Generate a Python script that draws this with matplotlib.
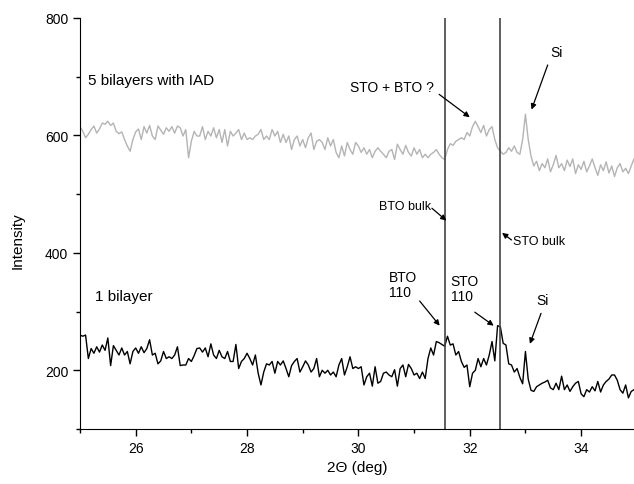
import numpy as np
import matplotlib
matplotlib.use("Agg")
import matplotlib.pyplot as plt
from matplotlib.ticker import MultipleLocator

plt.rcParams['font.family'] = ['Liberation Sans', 'DejaVu Sans']

# 2-theta grid: 25.00 .. 34.95 deg, 0.05 deg step
theta_start = 25.0
theta_step = 0.05

# 1 bilayer (black)
one_bilayer = [
    260, 258, 260, 220, 237, 229, 240, 231, 243, 234, 255, 208, 242, 234, 226, 238, 226, 232, 211, 232,
    238, 229, 240, 230, 237, 252, 226, 229, 211, 216, 232, 220, 223, 220, 226, 240, 208, 209, 209, 220,
    215, 225, 237, 238, 231, 238, 223, 245, 226, 220, 234, 223, 220, 232, 215, 215, 244, 203, 215, 220,
    229, 220, 209, 226, 195, 175, 197, 211, 209, 215, 195, 215, 209, 216, 203, 189, 208, 215, 220, 197,
    206, 216, 209, 197, 203, 220, 189, 200, 195, 200, 192, 197, 189, 209, 220, 192, 206, 223, 203, 206,
    203,
    206, 175, 189, 195, 173, 206, 178, 181, 195, 197, 192, 189, 201, 173, 203, 209, 189, 210, 203, 192,
    195, 186, 197, 186, 220, 238, 226, 249, 247, 244, 241, 258, 243, 245, 226, 232, 215, 205, 209, 172,
    195, 200, 220, 206, 220, 209, 226, 249, 216, 276, 274, 246, 243, 211, 209, 197, 203, 188, 177, 232,
    185, 166, 164, 172, 175, 178, 180, 183, 170, 167, 178, 167, 190, 167, 175, 164, 172, 178, 181, 160,
    155, 167, 163, 172, 165, 181, 163, 175, 181, 185, 192, 192, 183, 167, 161, 175, 153, 164, 167,
]

# 5 bilayers with IAD (gray)
five_bilayers = [
    615, 607, 596, 602, 610, 616, 604, 611, 621, 619, 624, 617, 621, 607, 603, 606, 593, 582, 573, 593,
    606, 611, 593, 615, 604, 617, 599, 593, 616, 609, 602, 613, 607, 615, 604, 616, 613, 599, 610, 562,
    590, 607, 599, 599, 615, 593, 607, 599, 613, 596, 610, 588, 610, 582, 607, 599, 604, 610, 593, 604,
    593, 596, 593, 599, 602, 610, 593, 599, 593, 610, 599, 607, 588, 602, 588, 599, 576, 593, 599, 582,
    593, 579, 596, 604, 576, 590, 593, 588, 576, 596, 582, 593, 571, 562, 582, 565, 588, 576, 568, 588,
    582,
    571, 579, 568, 576, 562, 573, 579, 573, 568, 562, 573, 576, 559, 585, 576, 568, 583, 571, 565, 579,
    568, 576, 562, 568, 562, 568, 571, 576, 568, 562, 559, 576, 586, 583, 590, 593, 596, 593, 605, 599,
    615, 624, 615, 605, 617, 599, 610, 615, 593, 579, 573, 568, 571, 579, 573, 582, 571, 568, 593, 636,
    593, 565, 548, 556, 540, 552, 545, 560, 538, 550, 566, 545, 552, 540, 558, 547, 560, 535, 550, 542,
    556, 538, 548, 560, 545, 532, 550, 540, 555, 536, 548, 530, 545, 552, 538, 544, 535, 548, 560,
]

bulk_lines = [31.55, 32.55]   # BTO bulk, STO bulk

x_one = theta_start + theta_step * np.arange(len(one_bilayer))
x_five = theta_start + theta_step * np.arange(len(five_bilayers))

fig = plt.figure(figsize=(6.34, 4.85), dpi=100)
ax = fig.add_axes([80 / 634, 55 / 485, 554 / 634, 411 / 485])

ax.plot(x_five, five_bilayers, color='#b4b4b4', lw=1.0)
ax.plot(x_one, one_bilayer, color='black', lw=1.0)
for xv in bulk_lines:
    ax.axvline(xv, color='#444444', lw=1.2)

ax.set_xlim(25, 34.95)
ax.set_ylim(100, 800)
ax.spines['top'].set_visible(False)
ax.spines['right'].set_visible(False)
ax.xaxis.set_major_locator(MultipleLocator(2))
ax.xaxis.set_minor_locator(MultipleLocator(1))
ax.yaxis.set_major_locator(MultipleLocator(200))
ax.yaxis.set_minor_locator(MultipleLocator(100))
ax.tick_params(which='major', direction='out', length=5, width=1, labelsize=10)
ax.tick_params(which='minor', direction='out', length=3, width=1)
ax.set_xlabel('2Θ (deg)', fontsize=11)
ax.set_ylabel('Intensity', fontsize=11)
ax.yaxis.set_label_coords(-0.1, 0.46)

ap = dict(arrowstyle='-|>', lw=0.9, color='black', mutation_scale=8, shrinkA=0, shrinkB=0)

ax.text(25.15, 695, '5 bilayers with IAD', fontsize=11, va='center', ha='left')
ax.text(25.27, 326, '1 bilayer', fontsize=11, va='center', ha='left')

ax.text(30.6, 683, 'STO + BTO ?', ha='center', va='center', fontsize=10)
ax.annotate('', xy=(32.0, 631), xytext=(31.45, 670), arrowprops=ap)
ax.text(33.56, 742, 'Si', ha='center', va='center', fontsize=10)
ax.annotate('', xy=(33.11, 644), xytext=(33.4, 720), arrowprops=ap)

ax.text(31.3, 480, 'BTO bulk', ha='right', va='center', fontsize=9)
ax.annotate('', xy=(31.58, 455), xytext=(31.32, 476), arrowprops=ap)
ax.text(32.78, 420, 'STO bulk', ha='left', va='center', fontsize=9)
ax.annotate('', xy=(32.58, 434), xytext=(32.75, 422), arrowprops=ap)

ax.text(30.55, 346, 'BTO\n110', ha='left', va='center', fontsize=10, linespacing=1.1)
ax.annotate('', xy=(31.46, 276), xytext=(31.1, 318), arrowprops=ap)
ax.text(31.66, 340, 'STO\n110', ha='left', va='center', fontsize=10, linespacing=1.1)
ax.annotate('', xy=(32.43, 276), xytext=(32.09, 299), arrowprops=ap)
ax.text(33.31, 320, 'Si', ha='center', va='center', fontsize=10)
ax.annotate('', xy=(33.08, 245), xytext=(33.28, 297), arrowprops=ap)

fig.savefig('out.png', dpi=100)
